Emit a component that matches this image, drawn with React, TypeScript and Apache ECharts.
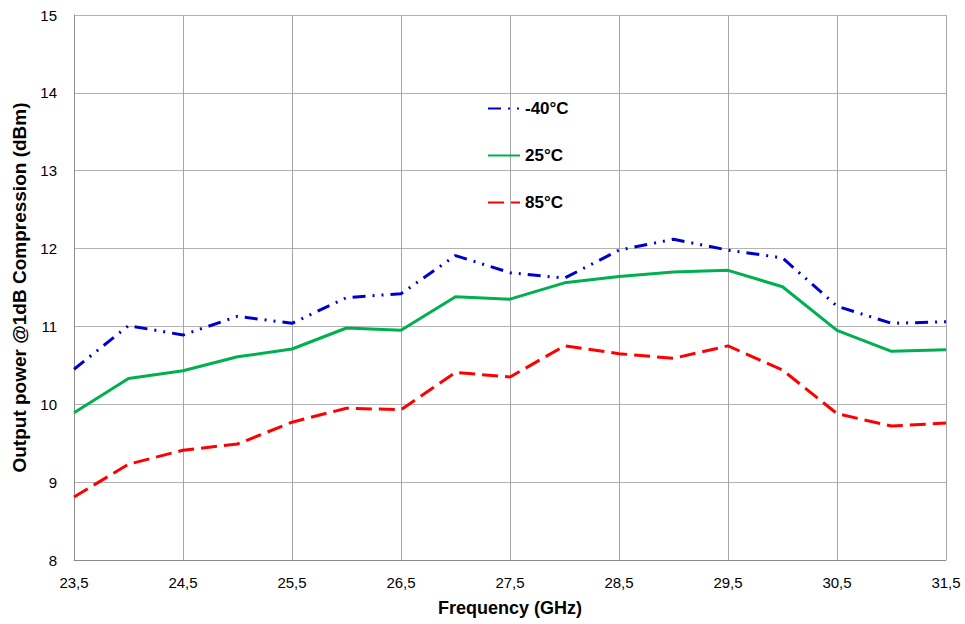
import React, { useEffect, useRef } from "react";
import * as echarts from "echarts";

const frequencies = [23.5, 24, 24.5, 25, 25.5, 26, 26.5, 27, 27.5, 28, 28.5, 29, 29.5, 30, 30.5, 31, 31.5];
const minus40 = [10.45, 11.01, 10.89, 11.13, 11.04, 11.37, 11.42, 11.91, 11.69, 11.62, 11.98, 12.12, 11.98, 11.88, 11.26, 11.04, 11.06];
const plus25 = [9.89, 10.33, 10.43, 10.61, 10.71, 10.98, 10.95, 11.38, 11.35, 11.56, 11.64, 11.7, 11.72, 11.51, 10.95, 10.68, 10.7];
const plus85 = [8.81, 9.23, 9.41, 9.49, 9.77, 9.95, 9.93, 10.41, 10.35, 10.75, 10.65, 10.59, 10.75, 10.44, 9.88, 9.72, 9.76];
const seriesNames = ["-40°C", "25°C", "85°C"];

const FONT = "Liberation Sans, Arial, sans-serif";

export default function App() {
  const ref = useRef<HTMLDivElement>(null);
  useEffect(() => {
    if (!ref.current) return;
    const chart = echarts.init(ref.current, null, { renderer: "svg" });
    const cats = frequencies.map((f) => String(f).replace(".", ","));
    chart.setOption({
      animation: false,
      backgroundColor: "#ffffff",
      grid: { left: 74, right: 19, top: 15, bottom: 64 },
      legend: {
        orient: "vertical",
        left: 482,
        top: 95,
        padding: 5,
        itemWidth: 32,
        itemHeight: 14,
        itemGap: 30,
        itemStyle: { opacity: 0 },
        textStyle: { fontFamily: FONT, fontWeight: "bold", fontSize: 17, color: "#000" },
        data: seriesNames,
      },
      xAxis: {
        type: "category",
        data: cats,
        boundaryGap: false,
        name: "Frequency (GHz)",
        nameLocation: "middle",
        nameGap: 39,
        nameTextStyle: { fontFamily: FONT, fontWeight: "bold", fontSize: 18, color: "#000" },
        axisLine: { lineStyle: { color: "#8c8c8c", width: 1 } },
        axisTick: { show: false },
        axisLabel: { interval: 1, margin: 15, fontFamily: FONT, fontSize: 15, color: "#000" },
        splitLine: { show: true, interval: 1, lineStyle: { color: "#a6a6a6", width: 1 } },
      },
      yAxis: {
        type: "value",
        min: 8,
        max: 15,
        interval: 1,
        name: "Output power @1dB Compression (dBm)",
        nameLocation: "middle",
        nameGap: 45,
        nameTextStyle: { fontFamily: FONT, fontWeight: "bold", fontSize: 19, color: "#000" },
        axisLine: { show: true, lineStyle: { color: "#8c8c8c", width: 1 } },
        axisTick: { show: false },
        axisLabel: { margin: 17, fontFamily: FONT, fontSize: 15, color: "#000" },
        splitLine: { show: true, lineStyle: { color: "#b3b3b3", width: 1 } },
      },
      series: [
        {
          name: seriesNames[0],
          type: "line",
          data: minus40,
          symbol: "none",
          lineStyle: { color: "#0000cc", width: 3, type: [13, 7, 2, 7, 2, 7] },
          itemStyle: { color: "#0000cc" },
        },
        {
          name: seriesNames[1],
          type: "line",
          data: plus25,
          symbol: "none",
          lineStyle: { color: "#00b050", width: 3, type: "solid" },
          itemStyle: { color: "#00b050" },
        },
        {
          name: seriesNames[2],
          type: "line",
          data: plus85,
          symbol: "none",
          lineStyle: { color: "#ff0000", width: 3, type: [16, 7] },
          itemStyle: { color: "#ff0000" },
        },
      ],
    });
    return () => chart.dispose();
  }, []);
  return <div ref={ref} style={{ width: 965, height: 624, position: "absolute", left: 0, top: 0 }} />;
}
